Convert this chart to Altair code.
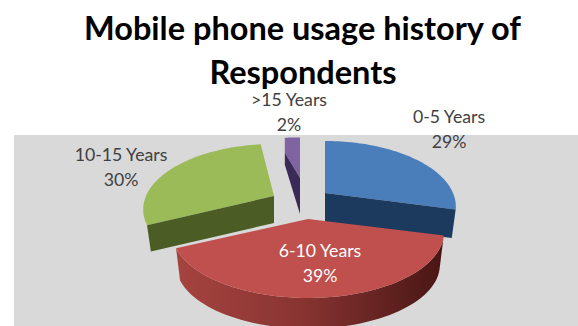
import math
import altair as alt
import pandas as pd

# Survey results, clockwise from twelve o'clock
categories = ["0-5 Years", "6-10 Years", "10-15 Years", ">15 Years"]
shares = [29, 39, 30, 2]
face_colors = ["#4a7ebb", "#c0504d", "#9bbb59", "#8064a2"]
wall_colors = ["#1c3a5e", "#7a2f2d", "#4b5c25", "#3a2a58"]

# Placement of each exploded slice: apex position, horizontal radius, radius scale
apex_x = [325, 308, 274, 300]
apex_y = [193, 219, 196, 178]
radius_x = [128, 133, 128, 146]
radius_scale = [1.0, 1.0, 1.0, 0.78]
wall_depth = [29, 33, 27, 36]
corner_lip = [0, 0, 0, 15]
corner_depth = [29, 33, 27, 12]

# Pie tilt: vertical radius and perspective strength
RADIUS_Y = 62.7
PERSPECTIVE = 0.206
RIM_SHRINK = 0.97


def rim_point(i, degrees, shrink=1.0, drop=0.0):
    a = math.radians(degrees)
    u, v = math.sin(a), -math.cos(a)
    s = 1 / (1 - PERSPECTIVE * v)
    return [
        apex_x[i] + radius_x[i] * u * s * shrink,
        apex_y[i] + RADIUS_Y * radius_scale[i] * v * s * shrink + drop,
    ]


def polygon(points):
    ring = points + [points[0]]
    return {"type": "Feature", "properties": {},
            "geometry": {"type": "Polygon", "coordinates": [ring]}}


def arc_angles(start, end, steps=60):
    return [start + (end - start) * k / steps for k in range(steps + 1)]


def face(i, start, end):
    apex = [apex_x[i], apex_y[i]]
    # the lip point keeps the face closed down to where its wall begins
    lip_point = rim_point(i, start, 1.0, corner_lip[i])
    return polygon([apex, lip_point] + [rim_point(i, d) for d in arc_angles(start, end)])


def radial_wall(i, degrees):
    apex = [apex_x[i], apex_y[i]]
    lip = corner_lip[i]
    return polygon([apex, rim_point(i, degrees, 1.0, lip),
                    rim_point(i, degrees, RIM_SHRINK if lip == 0 else 1.0, lip + corner_depth[i]),
                    [apex[0], apex[1] + wall_depth[i]]])


def curved_wall(i, start, end):
    top = [rim_point(i, d) for d in arc_angles(start, end)]
    bottom = [rim_point(i, d, RIM_SHRINK, wall_depth[i]) for d in arc_angles(end, start)]
    return polygon(top + bottom)


def shape(feature, fill):
    return (
        alt.Chart(alt.Data(values=[feature]))
        .mark_geoshape(fill=fill, stroke="transparent", strokeWidth=0)
        .project(type="identity", scale=1, translate=[0, 0])
    )


# Slice boundaries in degrees
bounds = [0]
for share in shares:
    bounds.append(bounds[-1] + share * 3.6)

red_wall_fill = alt.LinearGradient(
    gradient="linear", x1=0, x2=1, y1=0, y2=0,
    stops=[
        alt.GradientStop(offset=0, color="#a5433f"),
        alt.GradientStop(offset=0.45, color="#8a3532"),
        alt.GradientStop(offset=1, color="#481614"),
    ],
)

layers = [
    alt.Chart(alt.Data(values=[{"a": 1}])).mark_rect(color="#d9d9d9").encode(
        x=alt.value(14), x2=alt.value(578), y=alt.value(135), y2=alt.value(326)
    ),
    # green slice
    shape(face(2, bounds[2], bounds[3]), face_colors[2]),
    shape(radial_wall(2, bounds[2]), wall_colors[2]),
    # purple slice
    shape(face(3, bounds[3], bounds[4]), face_colors[3]),
    shape(radial_wall(3, bounds[3]), wall_colors[3]),
    # blue slice
    shape(face(0, bounds[0], bounds[1]), face_colors[0]),
    shape(radial_wall(0, bounds[1]), wall_colors[0]),
    # red slice, nearest the viewer
    shape(curved_wall(1, bounds[1], bounds[2]), red_wall_fill),
    shape(face(1, bounds[1], bounds[2]), face_colors[1]),
]

label_x = [449, 320, 121, 289]
label_y = [123, 257, 161, 106]
label_color = ["#404040", "#ffffff", "#404040", "#404040"]
LINE_GAP = 24.5

label_rows = []
for i, name in enumerate(categories):
    label_rows.append({"px": label_x[i], "py": label_y[i], "label": name, "c": label_color[i]})
    label_rows.append({"px": label_x[i], "py": label_y[i] + LINE_GAP,
                       "label": f"{shares[i]}%", "c": label_color[i]})

labels = alt.Chart(pd.DataFrame(label_rows)).mark_text(
    font="Lato", fontSize=17.7, align="center", baseline="alphabetic"
).encode(
    x=alt.X("px:Q", scale=None, axis=None),
    y=alt.Y("py:Q", scale=None, axis=None),
    text="label:N",
    color=alt.Color("c:N", scale=None, legend=None),
)

title_lines = pd.DataFrame({
    "px": [302.5, 303],
    "py": [40, 84],
    "line": ["Mobile phone usage history of", "Respondents"],
})
title = alt.Chart(title_lines).mark_text(
    font="Lato", fontSize=32.5, fontWeight="bold", align="center", baseline="alphabetic", color="#000000"
).encode(
    x=alt.X("px:Q", scale=None, axis=None),
    y=alt.Y("py:Q", scale=None, axis=None),
    text="line:N",
)

chart = alt.layer(*layers, labels, title).properties(
    width=578, height=326, padding=0, autosize=alt.AutoSizeParams(type="none"),
    background="#ffffff",
).configure_view(stroke=None)

chart.save("out.html", embed_options={"renderer": "svg", "actions": False})
